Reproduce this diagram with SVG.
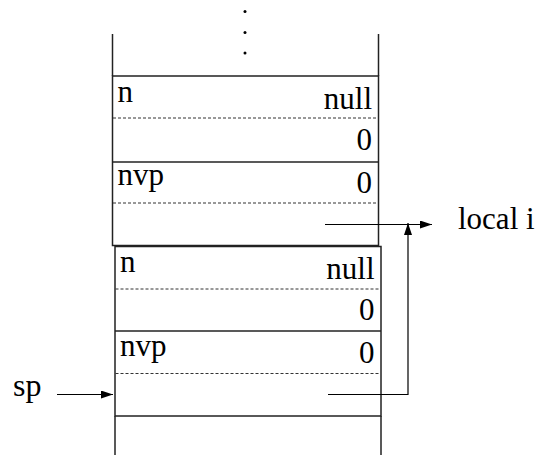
<svg xmlns="http://www.w3.org/2000/svg" width="544" height="455" viewBox="0 0 544 455">
  <style>
    .frame { fill: none; stroke: #222; stroke-width: 1.5; }
    .solid { stroke: #222; stroke-width: 1.5; }
    .dot { stroke: #333; stroke-width: 1; stroke-dasharray: 3 2; }
    .txt { font-family: "Liberation Serif", "Times New Roman", serif; font-size: 31px; fill: #000; }
    .end { text-anchor: end; }
    .conn { fill: none; stroke: #000; stroke-width: 1.2; }
  </style>
  <defs>
    <marker id="ah" viewBox="0 0 12 8" refX="12" refY="4" markerWidth="12" markerHeight="8" markerUnits="userSpaceOnUse" orient="auto">
      <path d="M0,0 L12,4 L0,8 Z" fill="#000"/>
    </marker>
  </defs>
  <rect width="544" height="455" fill="#fff"/>

  <g id="stack-top">
    <line class="solid" x1="112.5" y1="34" x2="112.5" y2="76"/>
    <line class="solid" x1="378.5" y1="34" x2="378.5" y2="76"/>
    <circle cx="245" cy="11.5" r="1.5" fill="#000"/>
    <circle cx="245" cy="32.5" r="1.5" fill="#000"/>
    <circle cx="245" cy="53" r="1.5" fill="#000"/>
  </g>

  <g id="frame-upper">
    <rect class="frame" x="112.5" y="76" width="266" height="169.5"/>
    <line class="dot" x1="113" y1="118" x2="378" y2="118"/>
    <line class="solid" x1="112.5" y1="162" x2="378.5" y2="162"/>
    <line class="dot" x1="113" y1="203" x2="378" y2="203"/>
    <text class="txt" x="117.5" y="102">n</text>
    <text class="txt end" x="372" y="109">null</text>
    <text class="txt end" x="372" y="150">0</text>
    <text class="txt" x="117.5" y="185">nvp</text>
    <text class="txt end" x="372" y="193">0</text>
  </g>

  <g id="frame-lower">
    <rect class="frame" x="115" y="246.5" width="266" height="169.5"/>
    <line class="dot" x1="115.5" y1="289" x2="380.5" y2="289"/>
    <line class="solid" x1="115" y1="331" x2="381" y2="331"/>
    <line class="dot" x1="115.5" y1="373.5" x2="380.5" y2="373.5"/>
    <text class="txt" x="120" y="272">n</text>
    <text class="txt end" x="374.5" y="279">null</text>
    <text class="txt end" x="374.5" y="320">0</text>
    <text class="txt" x="120" y="356">nvp</text>
    <text class="txt end" x="374.5" y="363">0</text>
  </g>

  <g id="stack-bottom">
    <line class="solid" x1="115" y1="416" x2="115" y2="455"/>
    <line class="solid" x1="381" y1="416" x2="381" y2="455"/>
  </g>

  <g id="label-local">
    <text class="txt" x="458" y="229">local i</text>
  </g>
  <g id="label-sp">
    <text class="txt" x="13" y="396" style="font-size:32px">sp</text>
  </g>

  <g id="connectors">
    <line class="conn" x1="325" y1="224.5" x2="432" y2="224.5" marker-end="url(#ah)"/>
    <polyline class="conn" points="328,394.5 408,394.5 408,223" marker-end="url(#ah)"/>
    <line class="conn" x1="57" y1="394.5" x2="113" y2="394.5" marker-end="url(#ah)"/>
  </g>
</svg>
